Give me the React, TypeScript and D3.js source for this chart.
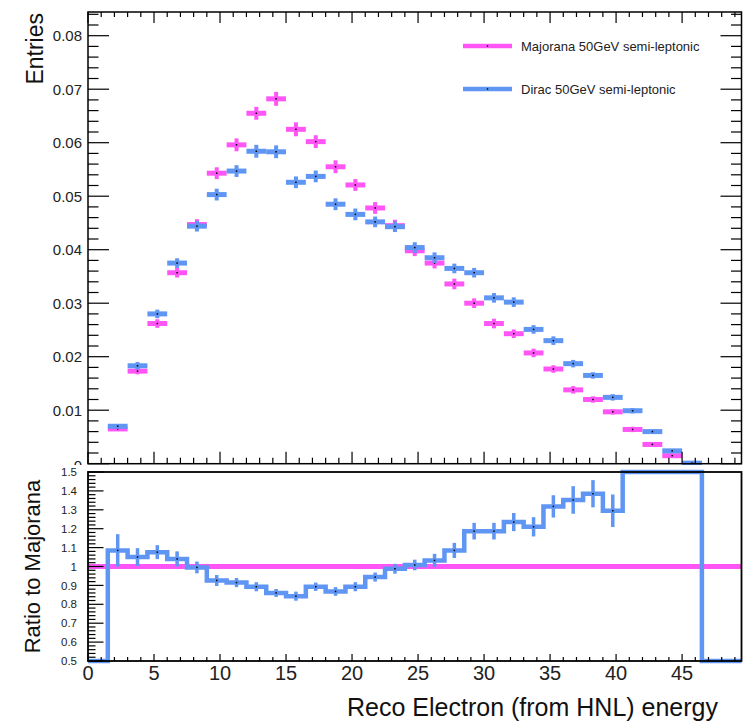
import React from 'react';
import * as d3 from 'd3';

// 33 bins of 1.5 GeV, 0 .. 49.5
const binWidth = 1.5;
const nBins = 33;

const majorana = [0, 0.0065, 0.0173, 0.0262, 0.0357, 0.0447, 0.0543, 0.0596, 0.0655, 0.0682, 0.0625,
  0.0602, 0.0555, 0.0521, 0.0478, 0.0445, 0.0398, 0.0375, 0.0336, 0.0300, 0.0262, 0.0243, 0.0207,
  0.0177, 0.0138, 0.0120, 0.0097, 0.0064, 0.0036, 0.0015, 0.00005, 0, 0];
const majoranaErr = [0, 0.0004, 0.0006, 0.0008, 0.0009, 0.001, 0.0011, 0.0012, 0.0012, 0.0013, 0.0013,
  0.0012, 0.0012, 0.0011, 0.0011, 0.0011, 0.001, 0.001, 0.001, 0.0009, 0.0009, 0.0008, 0.0008,
  0.0007, 0.0007, 0.0006, 0.0005, 0.0005, 0.0004, 0.0003, 0.0001, 0, 0];

const dirac = [0, 0.0070, 0.0183, 0.0280, 0.0375, 0.0444, 0.0503, 0.0547, 0.0584, 0.0583, 0.0526,
  0.0537, 0.0485, 0.0466, 0.0452, 0.0443, 0.0404, 0.0385, 0.0365, 0.0357, 0.0310, 0.0302, 0.0251,
  0.0230, 0.0187, 0.0165, 0.0124, 0.0099, 0.0060, 0.0024, 0.0001, 0, 0];
const diracErr = [0, 0.0004, 0.0007, 0.0008, 0.0009, 0.001, 0.0011, 0.0011, 0.0012, 0.0012, 0.0011,
  0.0011, 0.0011, 0.0011, 0.001, 0.001, 0.001, 0.001, 0.0009, 0.0009, 0.0009, 0.0009, 0.0008,
  0.0008, 0.0007, 0.0006, 0.0006, 0.0005, 0.0004, 0.0003, 0.0001, 0, 0];

const ratio = [0, 1.085, 1.05, 1.076, 1.04, 0.995, 0.926, 0.915, 0.893, 0.86, 0.843, 0.893, 0.868,
  0.893, 0.944, 0.988, 1.008, 1.032, 1.085, 1.187, 1.187, 1.235, 1.21, 1.318, 1.352, 1.385, 1.295,
  1.55, 1.67, 1.8, 2.0, 0, 0];
const ratioErr = [0, 0.086, 0.047, 0.037, 0.04, 0.031, 0.029, 0.024, 0.024, 0.021, 0.024, 0.022, 0.023,
  0.024, 0.024, 0.026, 0.028, 0.035, 0.04, 0.044, 0.044, 0.048, 0.051, 0.059, 0.073, 0.072, 0.086,
  0, 0, 0, 0, 0, 0];

const xMajor = [0, 5, 10, 15, 20, 25, 30, 35, 40, 45];
const xMinor = d3.range(0, 50, 1);
const yMajor = [0, 0.01, 0.02, 0.03, 0.04, 0.05, 0.06, 0.07, 0.08];
const yMinor = d3.range(0, 0.0845, 0.002);
const rMajor = [0.5, 0.6, 0.7, 0.8, 0.9, 1, 1.1, 1.2, 1.3, 1.4, 1.5];
const rMinor = d3.range(0.5, 1.501, 0.02);

const legendNames = ['Majorana 50GeV semi-leptonic', 'Dirac 50GeV semi-leptonic'];
const MAG = '#ff55f6';
const BLUE = '#5f95f3';
const FONT = '"Liberation Sans", Arial, Helvetica, sans-serif';

const L = 88, R = 741.5;
const T1 = 12, B1 = 463.7;
const T2 = 472, B2 = 661;

export default function App() {
  const x = d3.scaleLinear().domain([0, binWidth * nBins]).range([L, R]);
  const y = d3.scaleLinear().domain([0, 0.08443]).range([B1, T1]);
  const yr = d3.scaleLinear().domain([0.5, 1.5]).range([B2, T2]);
  const bins = d3.range(nBins);

  const series = [
    { vals: majorana, errs: majoranaErr, color: MAG },
    { vals: dirac, errs: diracErr, color: BLUE },
  ];

  const clip = (v: number) => Math.max(0.5, Math.min(1.5, v));
  const stepPts: [number, number][] = bins.map(i => [i * binWidth, clip(ratio[i])]);
  stepPts.push([nBins * binWidth, clip(ratio[nBins - 1])]);
  const stepLine = d3.line<[number, number]>()
    .x(d => x(d[0])).y(d => yr(d[1])).curve(d3.curveStepAfter);

  return (
    <svg width={748} height={724} style={{ position: 'absolute', left: 0, top: 0, background: '#fff' }}
      fontFamily={FONT}>
      <rect x={0} y={0} width={748} height={724} fill="#fff" />

      {/* ---- upper pad ---- */}
      {series.map((s, k) => (
        <g key={k}>
          {bins.filter(i => s.vals[i] > 0).map(i => {
            const cx = x((i + 0.5) * binWidth);
            return (
              <g key={i}>
                <line x1={x(i * binWidth)} x2={x((i + 1) * binWidth)} y1={y(s.vals[i])} y2={y(s.vals[i])}
                  stroke={s.color} strokeWidth={5} />
                <line x1={cx} x2={cx} y1={y(s.vals[i] - s.errs[i])} y2={y(s.vals[i] + s.errs[i])}
                  stroke={s.color} strokeWidth={4} />
                <rect x={cx - 0.75} y={y(s.vals[i]) - 0.75} width={1.5} height={1.5} fill="#000" />
              </g>
            );
          })}
        </g>
      ))}

      {/* axes ticks of upper pad */}
      <g stroke="#000" strokeWidth={1.2}>
        {xMinor.map(v => {
          const big = xMajor.includes(v);
          const len = big ? 12 : 6;
          return (
            <g key={v}>
              <line x1={x(v)} x2={x(v)} y1={B1} y2={B1 - len} />
              <line x1={x(v)} x2={x(v)} y1={T1} y2={T1 + (big ? 11 : 5)} />
            </g>
          );
        })}
        {yMinor.map(v => {
          const big = yMajor.some(m => Math.abs(m - v) < 1e-6);
          const len = big ? 21 : 10.5;
          return (
            <g key={v}>
              <line x1={L} x2={L + len} y1={y(v)} y2={y(v)} />
              <line x1={R} x2={R - len} y1={y(v)} y2={y(v)} />
            </g>
          );
        })}
      </g>
      <rect x={L} y={T1} width={R - L} height={B1 - T1} fill="none" stroke="#000" strokeWidth={1.5} />
      {yMajor.map(v => (
        <text key={v} x={82} y={v === 0 ? y(v) + 2 : y(v)} dy="0.36em" textAnchor="end" fontSize={15} fill="#222">
          {v === 0 ? '0' : d3.format('.2f')(v)}
        </text>
      ))}
      <text transform={`translate(43,${T1 + 1}) rotate(-90)`} textAnchor="end" fontSize={23} fill="#111">Entries</text>

      {/* legend */}
      {legendNames.map((name, k) => {
        const ly = 46 + k * 43;
        return (
          <g key={name}>
            <line x1={463} x2={512} y1={ly} y2={ly} stroke={series[k].color} strokeWidth={4.5} />
            <rect x={486.8} y={ly - 0.7} width={1.4} height={1.4} fill="#000" />
            <text x={521} y={ly} dy="0.36em" fontSize={13} fill="#222">{name}</text>
          </g>
        );
      })}

      {/* ---- lower pad ---- */}
      <rect x={0} y={465} width={748} height={724 - 465} fill="#fff" />
      <line x1={L} x2={R} y1={yr(1)} y2={yr(1)} stroke={MAG} strokeWidth={5} />
      <path d={stepLine(stepPts) || ''} fill="none" stroke={BLUE} strokeWidth={4.5} />
      {bins.filter(i => ratio[i] > 0.5 && ratio[i] < 1.5).map(i => {
        const cx = x((i + 0.5) * binWidth);
        return (
          <g key={i}>
            <line x1={cx} x2={cx} y1={yr(ratio[i] - ratioErr[i])} y2={yr(ratio[i] + ratioErr[i])}
              stroke={BLUE} strokeWidth={3.5} />
            <rect x={cx - 0.75} y={yr(ratio[i]) - 0.75} width={1.5} height={1.5} fill="#000" />
          </g>
        );
      })}
      <g stroke="#000" strokeWidth={1.2}>
        {xMinor.map(v => {
          const big = xMajor.includes(v);
          return <line key={v} x1={x(v)} x2={x(v)} y1={B2} y2={B2 - (big ? 7 : 4)} />;
        })}
        {rMinor.map(v => {
          const big = rMajor.some(m => Math.abs(m - v) < 1e-6);
          return <line key={v} x1={L} x2={L + (big ? 15.5 : 7.5)} y1={yr(v)} y2={yr(v)} />;
        })}
      </g>
      <rect x={L} y={T2} width={R - L} height={B2 - T2} fill="none" stroke="#000" strokeWidth={1.8} />
      {rMajor.map(v => (
        <text key={v} x={77} y={yr(v)} dy="0.36em" textAnchor="end" fontSize={11.5} fill="#222">
          {d3.format('~g')(v)}
        </text>
      ))}
      {xMajor.map(v => (
        <text key={v} x={x(v)} y={680} textAnchor="middle" fontSize={20} fill="#222">{v}</text>
      ))}
      <text transform={`translate(40,${(T2 + B2) / 2}) rotate(-90)`} textAnchor="middle" fontSize={22} fill="#111">
        Ratio to Majorana
      </text>
      <text x={718} y={716} textAnchor="end" fontSize={25} fill="#111">Reco Electron (from HNL) energy</text>
    </svg>
  );
}
